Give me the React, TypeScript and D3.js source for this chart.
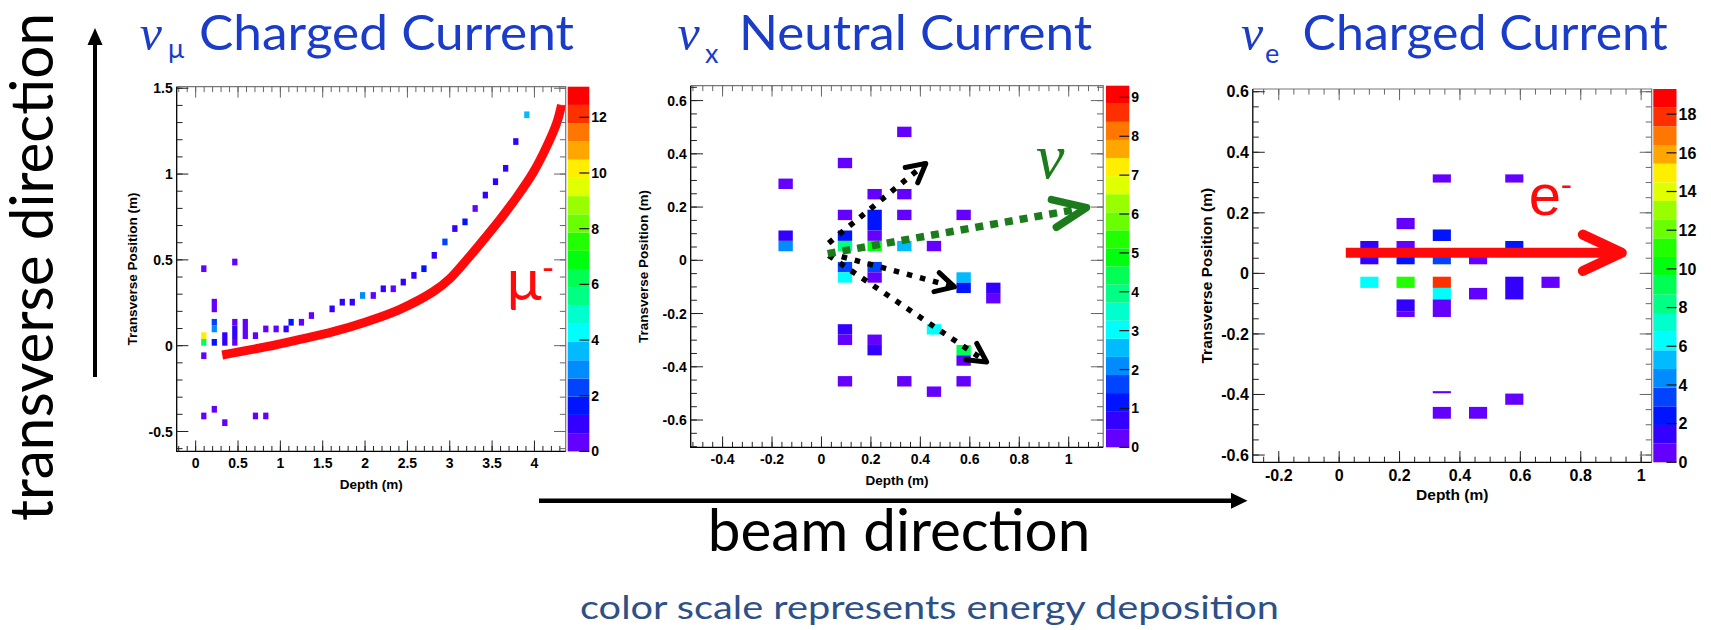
import React from 'react';
import * as d3 from 'd3';

type Cell = [number, number, number, number]; // depth, transverse low, transverse high, energy
type Pt = [number, number];

// ---- hit cells ----
const muCells: Cell[] = [
  [0.096, 0.429, 0.468, 0.3], [0.096, 0.039, 0.078, 10.1], [0.096, 0.0, 0.039, 5.9],
  [0.096, -0.078, -0.039, 0.3], [0.096, -0.429, -0.39, 0.3],
  [0.22, 0.195, 0.273, 0.4], [0.22, 0.117, 0.156, 2.2], [0.22, 0.078, 0.117, 2.9],
  [0.22, 0.0, 0.039, 1.5], [0.22, -0.39, -0.351, 0.3],
  [0.344, 0.0, 0.078, 0.9], [0.344, -0.468, -0.429, 0.3],
  [0.462, 0.468, 0.507, 0.3], [0.462, 0.117, 0.156, 0.4], [0.462, 0.039, 0.117, 0.9], [0.462, 0.0, 0.039, 0.4],
  [0.586, 0.039, 0.156, 0.5], [0.706, 0.039, 0.078, 0.3], [0.706, -0.429, -0.39, 0.3],
  [0.828, 0.078, 0.117, 0.3], [0.828, -0.429, -0.39, 0.3],
  [0.95, 0.078, 0.117, 0.3], [1.068, 0.078, 0.117, 0.9], [1.127, 0.117, 0.156, 1.7],
  [1.249, 0.117, 0.156, 0.3], [1.367, 0.156, 0.195, 0.3],
  [1.611, 0.195, 0.234, 0.9], [1.731, 0.234, 0.273, 0.8], [1.849, 0.234, 0.273, 0.8],
  [1.971, 0.273, 0.312, 2.7], [2.097, 0.273, 0.312, 0.4], [2.215, 0.312, 0.351, 1.0],
  [2.333, 0.312, 0.351, 0.4], [2.451, 0.351, 0.39, 1.0], [2.577, 0.39, 0.429, 1.0],
  [2.695, 0.429, 0.468, 1.6], [2.817, 0.507, 0.546, 1.0], [2.943, 0.585, 0.624, 2.3],
  [3.06, 0.663, 0.702, 1.0], [3.18, 0.702, 0.741, 1.6], [3.3, 0.78, 0.819, 0.5],
  [3.42, 0.858, 0.897, 1.0], [3.54, 0.936, 0.975, 1.0], [3.66, 1.014, 1.053, 1.0],
  [3.78, 1.17, 1.209, 1.0], [3.91, 1.326, 1.365, 3.6],
];

const ncCells: Cell[] = [
  [-0.145, 0.268, 0.307, 0.2], [-0.145, 0.073, 0.112, 0.7], [-0.145, 0.034, 0.073, 2.1],
  [0.095, 0.346, 0.385, 0.2], [0.095, 0.151, 0.19, 0.2], [0.095, 0.073, 0.112, 1.2],
  [0.095, 0.034, 0.073, 4.0], [0.095, -0.045, -0.006, 1.8], [0.095, -0.084, -0.045, 3.0],
  [0.095, -0.279, -0.24, 0.7], [0.095, -0.318, -0.279, 0.2], [0.095, -0.474, -0.435, 0.2],
  [0.215, 0.229, 0.268, 0.2], [0.215, 0.112, 0.19, 1.1], [0.215, 0.073, 0.112, 0.3],
  [0.215, 0.034, 0.073, 5.0], [0.215, -0.045, -0.006, 1.5], [0.215, -0.084, -0.045, 0.3],
  [0.215, -0.318, -0.279, 0.3], [0.215, -0.357, -0.318, 0.7],
  [0.335, 0.463, 0.502, 0.2], [0.335, 0.229, 0.268, 0.2], [0.335, 0.151, 0.19, 0.2],
  [0.335, 0.034, 0.073, 2.4], [0.335, -0.474, -0.435, 0.2],
  [0.455, 0.034, 0.073, 0.3], [0.455, -0.279, -0.24, 3.0], [0.455, -0.513, -0.474, 0.2],
  [0.575, 0.151, 0.19, 0.2], [0.575, -0.084, -0.045, 2.5], [0.575, -0.123, -0.084, 1.2],
  [0.575, -0.357, -0.318, 4.4], [0.575, -0.396, -0.357, 0.3], [0.575, -0.474, -0.435, 0.2],
  [0.695, -0.123, -0.084, 0.7], [0.695, -0.162, -0.123, 0.2],
];

const eCells: Cell[] = [
  [0.34, 0.3, 0.327, 0.4], [0.58, 0.3, 0.327, 0.4], [0.22, 0.146, 0.183, 0.4],
  [0.34, 0.107, 0.145, 2.4], [0.1, 0.068, 0.107, 1.4], [0.1, 0.03, 0.068, 1.3],
  [0.22, 0.068, 0.107, 0.5], [0.22, 0.03, 0.068, 2.2], [0.34, 0.03, 0.068, 3.3],
  [0.46, 0.03, 0.068, 0.5], [0.58, 0.068, 0.107, 2.3],
  [0.1, -0.048, -0.011, 6.2], [0.22, -0.048, -0.011, 10.8], [0.34, -0.048, -0.011, 17.8],
  [0.58, -0.086, -0.011, 1.4], [0.7, -0.048, -0.011, 0.5],
  [0.34, -0.086, -0.048, 6.1], [0.46, -0.086, -0.048, 0.5],
  [0.22, -0.125, -0.086, 1.4], [0.22, -0.144, -0.125, 0.4], [0.34, -0.144, -0.086, 0.6],
  [0.34, -0.396, -0.389, 0.4], [0.34, -0.48, -0.441, 0.4], [0.46, -0.48, -0.441, 0.4],
  [0.58, -0.434, -0.397, 0.4],
];

// ---- hand drawn annotations (depth, transverse) ----
const muTrack: Pt[] = [
  [0.314, -0.054], [0.838, -0.006], [1.231, 0.037], [1.625, 0.082], [2.019, 0.14],
  [2.412, 0.212], [2.805, 0.315], [3.0, 0.39], [3.2, 0.5], [3.395, 0.615],
  [3.593, 0.735], [3.79, 0.865], [3.986, 1.01], [4.144, 1.16], [4.262, 1.296], [4.32, 1.403],
];
const ncTracks: Pt[][] = [
  [[0.029, 0.065], [0.422, 0.364]],
  [[0.029, 0.027], [0.538, -0.1]],
  [[0.029, 0.018], [0.668, -0.382]],
];
const nuTrack: Pt[] = [[0.025, 0.025], [1.072, 0.198]];
const eTrack: Pt[] = [[0.022, 0.068], [0.936, 0.068]];
const muLabel: Pt = [3.672, 0.266];
const nuLabel: Pt = [0.925, 0.308];
const eLabel: Pt = [0.628, 0.193];

// ---- tick labels ----
const muDepthTicks = [0, 0.5, 1, 1.5, 2, 2.5, 3, 3.5, 4];
const muTransTicks = [-0.5, 0, 0.5, 1, 1.5];
const muZTicks = [0, 2, 4, 6, 8, 10, 12];
const ncDepthTicks = [-0.4, -0.2, 0, 0.2, 0.4, 0.6, 0.8, 1];
const ncTransTicks = [-0.6, -0.4, -0.2, 0, 0.2, 0.4, 0.6];
const ncZTicks = [0, 1, 2, 3, 4, 5, 6, 7, 8, 9];
const eDepthTicks = [-0.2, 0, 0.2, 0.4, 0.6, 0.8, 1];
const eTransTicks = [-0.6, -0.4, -0.2, 0, 0.2, 0.4, 0.6];
const eZTicks = [0, 2, 4, 6, 8, 10, 12, 14, 16, 18];

// ROOT "pretty" palette, 20 contours
const palette = d3.range(20).map((j) => {
  const idx = Math.floor(((j + 0.99) * 50) / 20);
  return d3.hsl(280 - (idx + 1) * 5.6, 1, 0.5).formatHex();
});

const ROOTFONT = "'Liberation Sans', Arial, sans-serif";
const GILL = "Lato, 'Open Sans', sans-serif";

type Cfg = {
  l: number; r: number; t: number; b: number; barL: number; barR: number;
  xDom: [number, number]; yDom: [number, number];
  xTicks: number[]; yTicks: number[]; zTicks: number[];
  xMinor: number; yMinor: number; zMax: number; cellW: number; font: number; yTitleOff: number;
};

const fmt = (v: number) => String(+v.toFixed(2));

function minors(dom: [number, number], step: number) {
  return d3
    .range(Math.ceil(dom[0] / step - 1e-6), Math.floor(dom[1] / step + 1e-6) + 1)
    .map((i) => i * step);
}

function chevron(tip: [number, number], from: [number, number], len: number, spread: number) {
  const a = Math.atan2(from[1] - tip[1], from[0] - tip[0]);
  const s = (spread * Math.PI) / 180;
  const p1 = [tip[0] + len * Math.cos(a + s), tip[1] + len * Math.sin(a + s)];
  const p2 = [tip[0] + len * Math.cos(a - s), tip[1] + len * Math.sin(a - s)];
  return `M${p1[0]},${p1[1]}L${tip[0]},${tip[1]}L${p2[0]},${p2[1]}`;
}

function Arrow({ pts, x, y, color, w, dash, head, spread, headW, cap = 'butt' }: any) {
  const px: [number, number][] = pts.map((p: Pt) => [x(p[0]), y(p[1])]);
  const tip = px[px.length - 1];
  const from = px[0];
  const line = d3.line();
  return (
    <g>
      <path d={line(px) || ''} fill="none" stroke={color} strokeWidth={w} strokeDasharray={dash} strokeLinecap={cap} />
      <path d={chevron(tip, from, head, spread)} fill="none" stroke={color} strokeWidth={headW}
        strokeLinecap="round" strokeLinejoin="round" />
    </g>
  );
}

function Panel({ cfg, cells, children }: { cfg: Cfg; cells: Cell[]; children: (x: any, y: any) => React.ReactNode }) {
  const x = d3.scaleLinear().domain(cfg.xDom).range([cfg.l, cfg.r]);
  const y = d3.scaleLinear().domain(cfg.yDom).range([cfg.b, cfg.t]);
  const z = d3.scaleLinear().domain([0, cfg.zMax]).range([cfg.b, cfg.t]);
  const color = d3.scaleQuantize<string>().domain([0, cfg.zMax]).range(palette);
  const xMaj = 0.03 * (cfg.b - cfg.t);
  const yMaj = 0.03 * (cfg.r - cfg.l);
  const xm = minors(cfg.xDom, cfg.xMinor);
  const ym = minors(cfg.yDom, cfg.yMinor);
  const bands = d3.range(20);
  return (
    <g>
      {cells.map((c, i) => (
        <rect key={i} x={x(c[0] - cfg.cellW / 2)} width={x(c[0] + cfg.cellW / 2) - x(c[0] - cfg.cellW / 2)}
          y={y(c[2])} height={y(c[1]) - y(c[2])} fill={color(c[3])} />
      ))}
      {children(x, y)}
      {/* frame */}
      <path d={`M${cfg.l},${cfg.t}H${cfg.r}V${cfg.b}`} fill="none" stroke="#777" strokeWidth={1.2} />
      <path d={`M${cfg.l},${cfg.t}V${cfg.b}H${cfg.r}`} fill="none" stroke="#000" strokeWidth={1.3} />
      {xm.map((v, i) => (
        <g key={'x' + i} stroke="#222" strokeWidth={1}>
          <line x1={x(v)} x2={x(v)} y1={cfg.b} y2={cfg.b - xMaj / 2} />
          <line x1={x(v)} x2={x(v)} y1={cfg.t} y2={cfg.t + xMaj / 2} stroke="#666" />
        </g>
      ))}
      {cfg.xTicks.map((v, i) => (
        <g key={'X' + i}>
          <line x1={x(v)} x2={x(v)} y1={cfg.b} y2={cfg.b - xMaj} stroke="#222" />
          <line x1={x(v)} x2={x(v)} y1={cfg.t} y2={cfg.t + xMaj} stroke="#666" />
          <text x={x(v)} y={cfg.b + cfg.font + 3} textAnchor="middle" fontSize={cfg.font}
            fontFamily={ROOTFONT} fontWeight="bold">{fmt(v)}</text>
        </g>
      ))}
      {ym.map((v, i) => (
        <g key={'y' + i} strokeWidth={1}>
          <line x1={cfg.l} x2={cfg.l + yMaj / 2} y1={y(v)} y2={y(v)} stroke="#222" />
          <line x1={cfg.r} x2={cfg.r - yMaj / 2} y1={y(v)} y2={y(v)} stroke="#666" />
        </g>
      ))}
      {cfg.yTicks.map((v, i) => (
        <g key={'Y' + i}>
          <line x1={cfg.l} x2={cfg.l + yMaj} y1={y(v)} y2={y(v)} stroke="#222" />
          <line x1={cfg.r} x2={cfg.r - yMaj} y1={y(v)} y2={y(v)} stroke="#666" />
          <text x={cfg.l - 4} y={y(v) + cfg.font * 0.36} textAnchor="end" fontSize={cfg.font}
            fontFamily={ROOTFONT} fontWeight="bold">{fmt(v)}</text>
        </g>
      ))}
      <text x={(cfg.l + cfg.r) / 2} y={cfg.b + 38} textAnchor="middle" fontSize={cfg.font - 0.5}
        fontFamily={ROOTFONT} fontWeight="bold">Depth (m)</text>
      <text transform={`translate(${cfg.l - cfg.yTitleOff},${(cfg.t + cfg.b) / 2}) rotate(-90)`}
        textAnchor="middle" fontSize={cfg.font - 0.5} fontFamily={ROOTFONT} fontWeight="bold">
        Transverse Position (m)
      </text>
      {/* palette */}
      {bands.map((j) => (
        <rect key={'b' + j} x={cfg.barL} width={cfg.barR - cfg.barL}
          y={z(((j + 1) * cfg.zMax) / 20)} height={z((j * cfg.zMax) / 20) - z(((j + 1) * cfg.zMax) / 20)}
          fill={palette[j]} />
      ))}
      {cfg.zTicks.map((v, i) => (
        <g key={'z' + i}>
          <line x1={cfg.barR} x2={cfg.barR - 10} y1={z(v)} y2={z(v)} stroke="#111" strokeWidth={1.2} />
          <text x={cfg.barR + 2} y={z(v) + cfg.font * 0.36} fontSize={cfg.font} fontFamily={ROOTFONT}
            fontWeight="bold">{fmt(v)}</text>
        </g>
      ))}
    </g>
  );
}

const muCfg: Cfg = {
  l: 176.7, r: 565.7, t: 86.7, b: 451.4, barL: 567.7, barR: 589.3,
  xDom: [-0.224, 4.369], yDom: [-0.616, 1.509],
  xTicks: muDepthTicks, yTicks: muTransTicks, zTicks: muZTicks,
  xMinor: 0.1, yMinor: 0.1, zMax: 13.1, cellW: 0.062, font: 14, yTitleOff: 40,
};
const ncCfg: Cfg = {
  l: 690.7, r: 1103.2, t: 85.7, b: 447.3, barL: 1106, barR: 1129.3,
  xDom: [-0.529, 1.1395], yDom: [-0.7025, 0.656],
  xTicks: ncDepthTicks, yTicks: ncTransTicks, zTicks: ncZTicks,
  xMinor: 0.04, yMinor: 0.05, zMax: 9.3, cellW: 0.058, font: 14, yTitleOff: 43,
};
const eCfg: Cfg = {
  l: 1252.8, r: 1651.7, t: 89, b: 462.3, barL: 1653.3, barR: 1676.5,
  xDom: [-0.286, 1.035], yDom: [-0.624, 0.609],
  xTicks: eDepthTicks, yTicks: eTransTicks, zTicks: eZTicks,
  xMinor: 0.05, yMinor: 0.05, zMax: 19.3, cellW: 0.06, font: 16, yTitleOff: 41,
};

const titles = [
  { nu: 139.7, sub: 'μ', subX: 168, subY: 58, word: 199, len: 375, text: 'Charged Current' },
  { nu: 677.6, sub: 'x', subX: 705, subY: 63, word: 739, len: 353, text: 'Neutral Current' },
  { nu: 1241, sub: 'e', subX: 1265, subY: 63, word: 1302.6, len: 365, text: 'Charged Current' },
];
const BLUE = '#1a3cc8';

export default function App() {
  return (
    <svg width={1711} height={630} style={{ position: 'absolute', left: 0, top: 0, background: '#fff' }}>
      {titles.map((t, i) => (
        <g key={i} fill={BLUE}>
          <text x={t.nu} y={50} fontSize={50} fontStyle="italic" fontFamily="'Liberation Serif', serif">ν</text>
          <text x={t.subX} y={t.subY} fontSize={27} fontFamily={GILL}>{t.sub}</text>
          <text x={t.word} y={50} fontSize={49} fontFamily={GILL} textLength={t.len}
            lengthAdjust="spacingAndGlyphs">{t.text}</text>
        </g>
      ))}

      <Panel cfg={muCfg} cells={muCells}>
        {(x, y) => {
          const line = d3.line<Pt>().x((d) => x(d[0])).y((d) => y(d[1])).curve(d3.curveCatmullRom.alpha(0.5));
          return (
            <g>
              <path d={line(muTrack) || ''} fill="none" stroke="#ff0a0a" strokeWidth={9} />
              <text x={x(muLabel[0])} y={y(muLabel[1])} fontSize={58} fill="#ff0a0a" fontFamily={GILL}>μ</text>
              <text x={x(muLabel[0]) + 35} y={y(muLabel[1]) - 20} fontSize={34} fill="#ff0a0a"
                fontFamily={GILL}>-</text>
            </g>
          );
        }}
      </Panel>

      <Panel cfg={ncCfg} cells={ncCells}>
        {(x, y) => (
          <g>
            {ncTracks.map((tr, i) => (
              <Arrow key={i} pts={tr} x={x} y={y} color="#000" w={5.5} dash="5.5 8" head={21}
                spread={28} headW={5} />
            ))}
            <Arrow pts={nuTrack} x={x} y={y} color="#1c7c1c" w={7.5} dash="8 7" head={36} spread={23} headW={7.5} />
            <text x={x(nuLabel[0])} y={y(nuLabel[1])} textAnchor="middle" fontSize={64} fontStyle="italic"
              fill="#1c7c1c" fontFamily="'Liberation Serif', serif">ν</text>
          </g>
        )}
      </Panel>

      <Panel cfg={eCfg} cells={eCells}>
        {(x, y) => (
          <g>
            <Arrow pts={eTrack} x={x} y={y} color="#ff0a0a" w={10} head={43} spread={25} headW={10} />
            <text x={x(eLabel[0])} y={y(eLabel[1])} fontSize={58} fill="#ff0a0a" fontFamily={ROOTFONT}>e</text>
            <text x={x(eLabel[0]) + 32} y={y(eLabel[1]) - 19} fontSize={34} fill="#ff0a0a"
              fontFamily={ROOTFONT}>-</text>
          </g>
        )}
      </Panel>

      {/* transverse direction */}
      <text transform="translate(53,521) rotate(-90)" fontSize={60} fontFamily={GILL} textLength={508}
        lengthAdjust="spacingAndGlyphs">transverse direction</text>
      <line x1={95} x2={95} y1={377} y2={44} stroke="#000" strokeWidth={4} />
      <path d="M95,28L102.5,45L87.5,45Z" fill="#000" />

      {/* beam direction */}
      <line x1={539} x2={1233} y1={500.7} y2={500.7} stroke="#000" strokeWidth={4.5} />
      <path d="M1247.5,500.7L1231,492.7L1231,508.7Z" fill="#000" />
      <text x={707.7} y={551} fontSize={58} fontFamily={GILL} textLength={382.6}
        lengthAdjust="spacingAndGlyphs">beam direction</text>

      <text x={580} y={619} fontSize={33} fontFamily={GILL} fill="#2d5087" textLength={699}
        lengthAdjust="spacingAndGlyphs">color scale represents energy deposition</text>
    </svg>
  );
}
